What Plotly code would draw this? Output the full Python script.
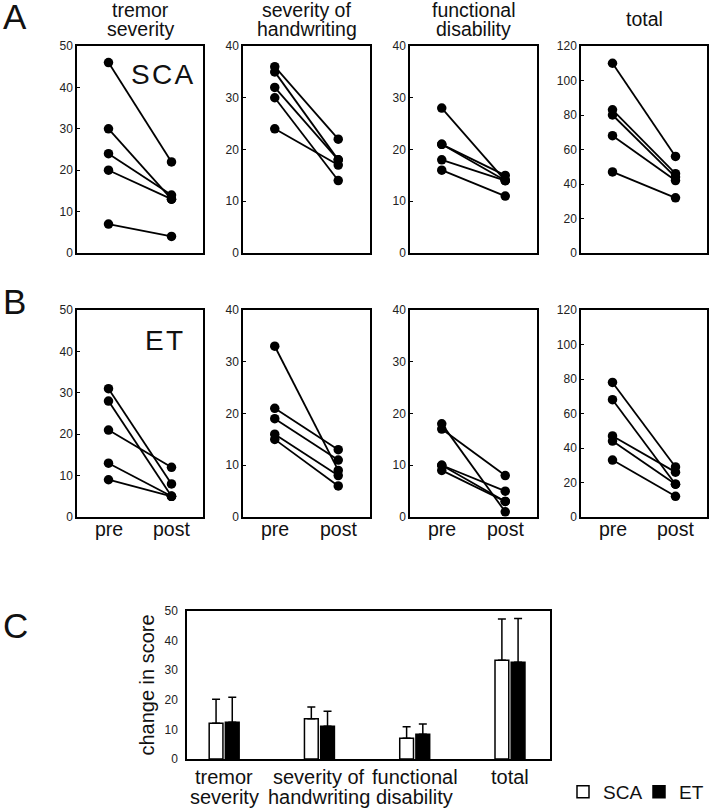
import plotly.graph_objects as go

# ---------------- data ----------------
phases = ["pre", "post"]

# Panel A (SCA) pre/post per subject
sca_tremor_pre = [46, 30, 24, 20, 7]
sca_tremor_post = [22, 13, 14, 13, 4]
sca_hand_pre = [36, 35, 32, 30, 24]
sca_hand_post = [22, 18, 18, 14, 17]
sca_func_pre = [28, 21, 21, 18, 16]
sca_func_post = [14, 15, 14, 14, 11]
sca_total_pre = [110, 83, 80, 68, 47]
sca_total_post = [56, 46, 44, 42, 32]

# Panel B (ET)
et_tremor_pre = [31, 28, 21, 13, 9]
et_tremor_post = [8, 5, 12, 5, 5]
et_hand_pre = [33, 21, 19, 16, 15]
et_hand_post = [9, 13, 11, 8, 6]
et_func_pre = [18, 17, 10, 10, 9]
et_func_post = [1, 8, 5, 3, 3]
et_total_pre = [78, 68, 47, 44, 33]
et_total_post = [29, 19, 26, 19, 12]

# Panel C: change in score (mean, SD)
categories = ["tremor severity", "severity of handwriting", "functional disability", "total"]
category_lines = [["tremor", "severity"], ["severity of", "handwriting"],
                  ["functional", "disability"], ["total"]]
sca_change = [12.1, 13.6, 7.0, 33.4]
sca_sd = [8.1, 4.0, 3.9, 13.9]
et_change = [12.4, 11.1, 8.4, 32.7]
et_sd = [8.5, 5.0, 3.4, 14.8]

panel_title_lines = [["tremor", "severity"], ["severity of", "handwriting"],
                     ["functional", "disability"], ["total"]]
y_max = [50, 40, 40, 120]
y_dtick = [10, 10, 10, 20]

# ---------------- layout geometry ----------------
W, H = 709, 811
FONT = "Liberation Sans, Arial, sans-serif"
x_dom = [(77, 203), (243, 370), (410, 537), (581, 707)]
rowA = (46, 253)
rowB = (310, 517)

def px_x(a, b):
    return [a / W, b / W]

def px_y(top, bottom):
    return [1 - bottom / H, 1 - top / H]

def py(p):
    return 1 - p / H

fig = go.Figure()
layout = dict(
    width=W, height=H,
    margin=dict(l=0, r=0, t=0, b=0, autoexpand=False),
    paper_bgcolor="white", plot_bgcolor="white",
    font=dict(family=FONT, color="#111"),
    showlegend=True,
)

pre_sets = [
    [sca_tremor_pre, sca_hand_pre, sca_func_pre, sca_total_pre],
    [et_tremor_pre, et_hand_pre, et_func_pre, et_total_pre],
]
post_sets = [
    [sca_tremor_post, sca_hand_post, sca_func_post, sca_total_post],
    [et_tremor_post, et_hand_post, et_func_post, et_total_post],
]

ann = []

def txt(text, x, y, size, xanchor="center", xref="paper"):
    ann.append(dict(
        text=text, x=x, y=y, xref=xref, yref="paper",
        xanchor=xanchor, yanchor="middle", showarrow=False,
        font=dict(size=size, color="#111", family=FONT),
    ))

idx = 0
for r, (top, bottom) in enumerate([rowA, rowB]):
    for c in range(4):
        idx += 1
        xa = f"x{idx}" if idx > 1 else "x"
        ya = f"y{idx}" if idx > 1 else "y"
        pre = pre_sets[r][c]
        post = post_sets[r][c]
        for a, b in zip(pre, post):
            fig.add_trace(go.Scatter(
                x=[0, 1], y=[a, b], mode="lines+markers",
                line=dict(color="black", width=1.8),
                marker=dict(color="black", size=9.5),
                xaxis=xa, yaxis=ya, showlegend=False, hoverinfo="skip",
            ))
        layout[f"xaxis{idx}"] = dict(
            domain=px_x(*x_dom[c]), anchor=ya, range=[-0.5, 1.5],
            showline=True, mirror=True, linecolor="black", linewidth=1.5,
            showgrid=False, zeroline=False, automargin=False,
            tickmode="array", tickvals=[0, 1],
            ticks="", showticklabels=False,
        )
        layout[f"yaxis{idx}"] = dict(
            domain=px_y(top, bottom), anchor=xa, range=[0, y_max[c]],
            dtick=y_dtick[c], showline=True, mirror=True, linecolor="black",
            linewidth=1.5, showgrid=False, zeroline=False, automargin=False,
            ticks="inside", ticklen=3, tickcolor="black",
            tickfont=dict(size=12, color="#222", family=FONT),
        )
        if r == 1:
            for k, ph in enumerate(phases):
                txt(ph, k, py(529), 19.5, xref=xa)

# ---------------- panel C ----------------
fig.add_trace(go.Bar(
    x=categories, y=sca_change, name="SCA",
    marker=dict(color="white", line=dict(color="black", width=1.5)),
    error_y=dict(type="data", array=sca_sd, arrayminus=[0] * 4, symmetric=False,
                 color="black", thickness=1.5, width=4),
    xaxis="x9", yaxis="y9",
))
fig.add_trace(go.Bar(
    x=categories, y=et_change, name="ET",
    marker=dict(color="black", line=dict(color="black", width=1.5)),
    error_y=dict(type="data", array=et_sd, arrayminus=[0] * 4, symmetric=False,
                 color="black", thickness=1.5, width=4),
    xaxis="x9", yaxis="y9",
))
layout["xaxis9"] = dict(
    domain=px_x(187, 550), anchor="y9", range=[-0.39, 3.42],
    type="category", categoryorder="array", categoryarray=categories,
    showline=True, mirror=True, linecolor="black", linewidth=1.5,
    showgrid=False, zeroline=False, ticks="", showticklabels=False,
    automargin=False,
)
layout["yaxis9"] = dict(
    domain=px_y(611, 759), anchor="x9", range=[0, 50], dtick=10,
    showline=True, mirror=True, linecolor="black", linewidth=1.5,
    showgrid=False, zeroline=False, ticks="", automargin=False,
    ticklabelstandoff=5,
    tickfont=dict(size=12, color="#222", family=FONT),
    title=dict(text="change in score", font=dict(size=20, color="#111", family=FONT), standoff=4),
)
layout["barmode"] = "group"
layout["bargap"] = 0.66
layout["bargroupgap"] = 0.15
layout["legend"] = dict(
    orientation="h", x=563 / W, y=py(811), xanchor="left", yanchor="bottom",
    font=dict(size=19, color="#111", family=FONT), itemwidth=30,
    entrywidth=31, entrywidthmode="pixels",
    tracegroupgap=0, bgcolor="rgba(0,0,0,0)",
)

# ---------------- annotations ----------------
centers = [(a + b) / 2 for a, b in x_dom]
for c, lines in enumerate(panel_title_lines):
    if len(lines) == 2:
        txt(lines[0], centers[c] / W, py(10), 19.5)
        txt(lines[1], centers[c] / W, py(29), 19.5)
    else:
        txt(lines[0], centers[c] / W, py(19), 19.5)

for letter, (lx, ly) in {"A": (1, 16), "B": (1, 301), "C": (1, 625)}.items():
    txt(letter, lx / W, py(ly), 35, xanchor="left")

txt("S\u200aC\u200aA", 162 / W, py(75), 28)
txt("E\u200aT", 164 / W, py(340), 28)

for c, lines in enumerate(category_lines):
    txt(lines[0], categories[c], py(777), 20, xref="x9")
    if len(lines) > 1:
        txt(lines[1], categories[c], py(797), 20, xref="x9")

layout["annotations"] = ann

fig.update_layout(**layout)
fig.write_html("out.html", config={"displayModeBar": False},
               post_script="document.body.style.margin='0';")
